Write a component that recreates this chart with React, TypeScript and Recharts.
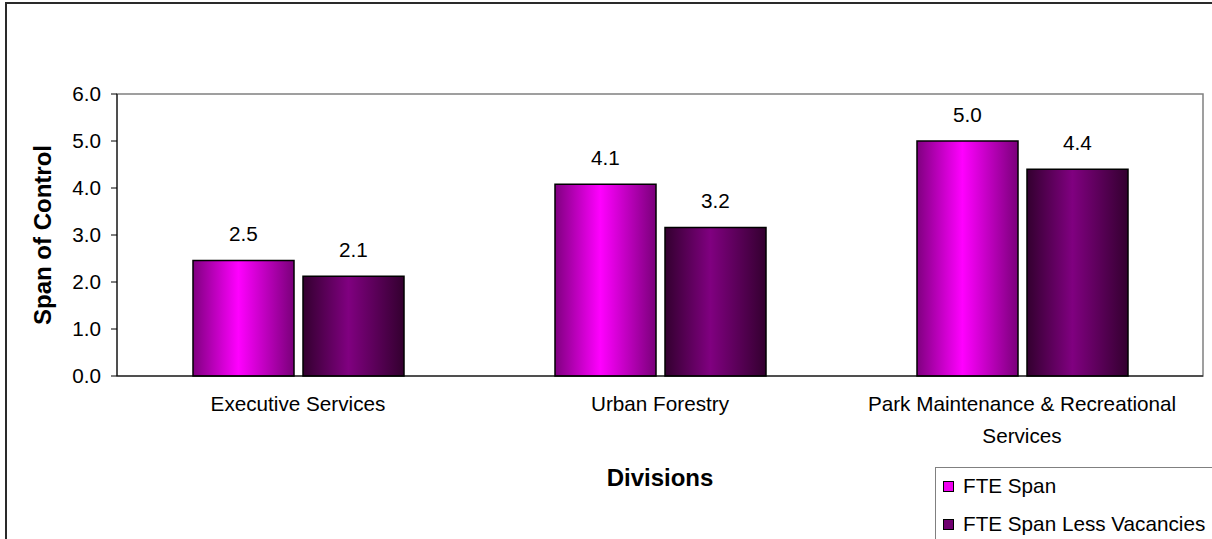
import React from "react";
import {
  Bar,
  BarChart,
  LabelList,
  ReferenceArea,
  XAxis,
  YAxis,
} from "recharts";

const categories = [
  "Executive Services",
  "Urban Forestry",
  "Park Maintenance & Recreational Services",
];
const fteSpan = [2.46, 4.08, 5.0];
const fteSpanLessVacancies = [2.12, 3.16, 4.4];
const yTicks = [0, 1, 2, 3, 4, 5, 6];
const edgeTicks = [0, 1, 2, 3];

const series = [
  { key: "fte", name: "FTE Span", grad: "gradFte", swatch: "#f000f0" },
  { key: "less", name: "FTE Span Less Vacancies", grad: "gradLess", swatch: "#700070" },
];

const data = categories.map((name, i) => ({
  name,
  fte: fteSpan[i],
  less: fteSpanLessVacancies[i],
}));

const FONT = '"Liberation Sans", Arial, sans-serif';
const FS = 20.7;
const WRAP = 320;

let ctx: CanvasRenderingContext2D | null = null;
function measure(s: string) {
  if (!ctx) ctx = document.createElement("canvas").getContext("2d");
  if (!ctx) return s.length * FS * 0.5;
  ctx.font = `${FS}px ${FONT}`;
  return ctx.measureText(s).width;
}

function wrapWords(s: string) {
  const lines: string[] = [];
  let cur = "";
  for (const w of s.split(" ")) {
    const next = cur ? cur + " " + w : w;
    if (cur && measure(next) > WRAP) {
      lines.push(cur);
      cur = w;
    } else cur = next;
  }
  if (cur) lines.push(cur);
  return lines;
}

function renderCategoryTick(props: any) {
  const { x, y, payload } = props;
  const lines = wrapWords(String(payload.value));
  return (
    <text
      key={payload.value}
      x={x}
      y={y}
      textAnchor="middle"
      fontSize={FS}
      fontFamily={FONT}
      fill="#000"
    >
      {lines.map((l, i) => (
        <tspan key={i} x={x} dy={i === 0 ? "0.71em" : 32}>
          {l}
        </tspan>
      ))}
    </text>
  );
}

export default function App() {
  return (
    <div
      style={{
        position: "absolute",
        left: 0,
        top: 0,
        width: 1212,
        height: 539,
        overflow: "hidden",
        background: "#fff",
        fontFamily: FONT,
      }}
    >
      <div
        style={{
          position: "absolute",
          left: 5,
          top: 2,
          width: 1400,
          height: 800,
          border: "2px solid #2a2a2a",
        }}
      />
      <div style={{ position: "absolute", left: 0, top: 0 }}>
        <BarChart
          width={1212}
          height={539}
          data={data}
          margin={{ top: 94, right: 9, bottom: 43, left: 0 }}
          barGap={9}
          style={{ fontFamily: FONT }}
        >
          <defs>
            <linearGradient id="gradFte" x1="0" y1="0" x2="1" y2="0">
              <stop offset="0%" stopColor="#800080" />
              <stop offset="45%" stopColor="#ff00ff" />
              <stop offset="100%" stopColor="#7a007a" />
            </linearGradient>
            <linearGradient id="gradLess" x1="0" y1="0" x2="1" y2="0">
              <stop offset="0%" stopColor="#33002f" />
              <stop offset="45%" stopColor="#800080" />
              <stop offset="100%" stopColor="#33002f" />
            </linearGradient>
          </defs>
          <ReferenceArea
            xAxisId="cat"
            y1={0}
            y2={6}
            fill="none"
            stroke="#808080"
            strokeWidth={1.5}
          />
          <XAxis
            xAxisId="edges"
            type="number"
            domain={[0, 3]}
            ticks={edgeTicks}
            allowDataOverflow
            height={0}
            axisLine={false}
            tickSize={6}
            tickLine={{ stroke: "#000" }}
            tickFormatter={() => ""}
          />
          <XAxis
            xAxisId="cat"
            dataKey="name"
            height={120}
            interval={0}
            tickLine={false}
            tickSize={6}
            tickMargin={14}
            axisLine={{ stroke: "#000" }}
            tick={renderCategoryTick}
            label={{
              content: ({ viewBox }: any) => (
                <text
                  x={viewBox.x + viewBox.width / 2}
                  y={viewBox.y + 101}
                  textAnchor="middle"
                  dominantBaseline="central"
                  fontFamily={FONT}
                  fontSize={24}
                  fontWeight="bold"
                  fill="#000"
                >
                  Divisions
                </text>
              ),
            }}
          />
          <YAxis
            width={117}
            domain={[0, 6]}
            ticks={yTicks}
            interval={0}
            tickSize={6}
            tickMargin={10}
            tickFormatter={(v: number) => v.toFixed(1)}
            tick={{ fill: "#000", fontSize: FS, fontFamily: FONT }}
            tickLine={{ stroke: "#000" }}
            axisLine={{ stroke: "#000" }}
            label={{
              content: ({ viewBox }: any) => {
                const cx = viewBox.x + 42;
                const cy = viewBox.y + viewBox.height / 2;
                return (
                  <text
                    x={cx}
                    y={cy}
                    transform={`rotate(-90, ${cx}, ${cy})`}
                    textAnchor="middle"
                    dominantBaseline="central"
                    fontFamily={FONT}
                    fontSize={24}
                    fontWeight="bold"
                    fill="#000"
                  >
                    Span of Control
                  </text>
                );
              },
            }}
          />
          {series.map((s) => (
            <Bar
              key={s.key}
              xAxisId="cat"
              dataKey={s.key}
              name={s.name}
              fill={`url(#${s.grad})`}
              stroke="#000"
              strokeWidth={1.5}
              barSize={101}
              isAnimationActive={false}
            >
              <LabelList
                dataKey={s.key}
                position="top"
                offset={19}
                formatter={(v: any) => Number(v).toFixed(1)}
                fill="#000"
                fontSize={FS}
                fontFamily={FONT}
              />
            </Bar>
          ))}
        </BarChart>
      </div>
      <div
        style={{
          position: "absolute",
          left: 935,
          top: 467,
          width: 400,
          height: 200,
          border: "1.5px solid #808080",
          background: "#fff",
        }}
      >
        {series.map((s, i) => (
          <div
            key={s.key}
            style={{
              position: "absolute",
              left: 7,
              top: 6 + i * 38,
              height: 24,
              display: "flex",
              alignItems: "center",
              whiteSpace: "nowrap",
              fontSize: FS,
              color: "#000",
            }}
          >
            <span
              style={{
                display: "inline-block",
                width: 9,
                height: 9,
                border: "1.5px solid #000",
                background: s.swatch,
                marginRight: 9,
              }}
            />
            {s.name}
          </div>
        ))}
      </div>
    </div>
  );
}
